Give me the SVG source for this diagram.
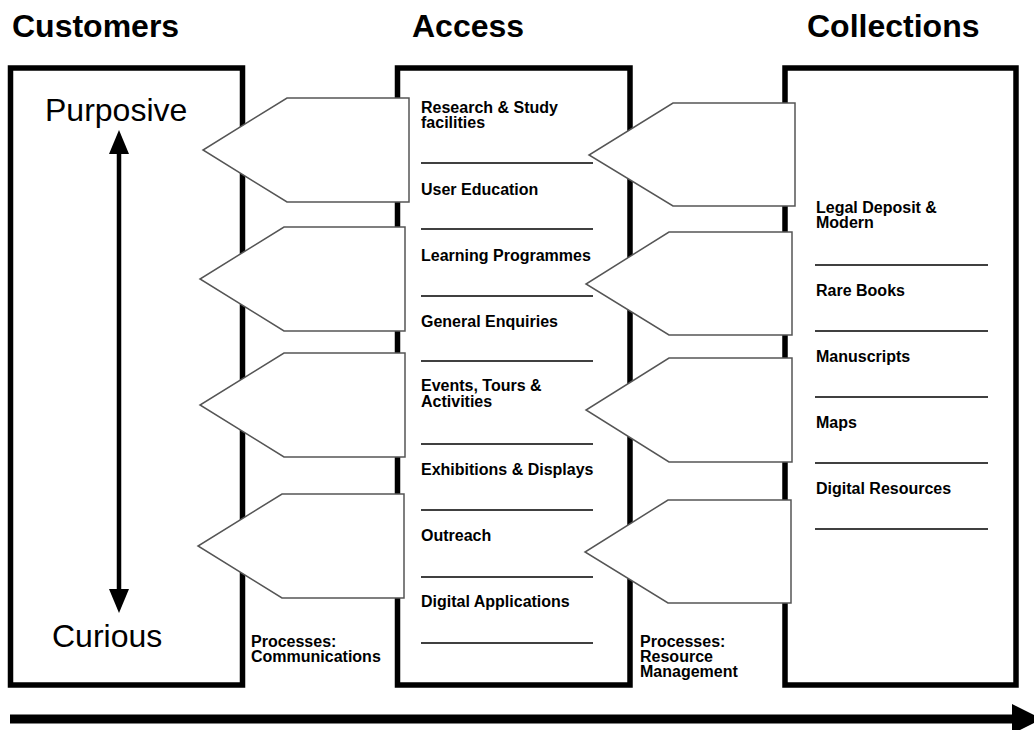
<svg xmlns="http://www.w3.org/2000/svg" width="1034" height="730" viewBox="0 0 1034 730">
  <style>
    .frame { fill: none; stroke: #000; stroke-width: 5.5; }
    .head { font-family: "Liberation Sans", Arial, sans-serif; font-weight: bold; font-size: 32px; fill: #000; }
    .scale { font-family: "Liberation Sans", Arial, sans-serif; font-size: 32px; fill: #000; }
    .item { font-family: "Liberation Sans", Arial, sans-serif; font-weight: bold; font-size: 16px; fill: #000; }
    .rule { stroke: #000; stroke-width: 1.6; }
    .block { fill: #fff; stroke: #555; stroke-width: 1.5; stroke-linejoin: miter; }
    .shaft { stroke: #000; fill: none; }
  </style>
  <defs>
    <marker id="tipV" markerUnits="userSpaceOnUse" markerWidth="24" markerHeight="20" viewBox="0 0 24 20" refX="4" refY="10" orient="auto-start-reverse">
      <path d="M0,0 L24,10 L0,20 z" fill="#000"/>
    </marker>
    <marker id="tipH" markerUnits="userSpaceOnUse" markerWidth="30" markerHeight="30" viewBox="0 0 30 30" refX="4" refY="15" orient="auto">
      <path d="M0,0 L30,15 L0,30 z" fill="#000"/>
    </marker>
  </defs>

  <rect width="1034" height="730" fill="#fff"/>

  <!-- Customers column -->
  <g id="customers">
    <text class="head" x="12" y="37">Customers</text>
    <rect class="frame" x="10.5" y="68" width="232" height="617"/>
    <text class="scale" x="45" y="121">Purposive</text>
    <text class="scale" x="52" y="647">Curious</text>
    <text class="item" x="251" y="647">Processes:</text>
    <text class="item" x="251" y="662">Communications</text>
  </g>

  <!-- Access column -->
  <g id="access">
    <text class="head" x="412" y="37">Access</text>
    <rect class="frame" x="397.5" y="68" width="232.5" height="617"/>
    <g class="item">
      <text x="421" y="113">Research &amp; Study</text>
      <text x="421" y="128">facilities</text>
      <text x="421" y="195">User Education</text>
      <text x="421" y="261">Learning Programmes</text>
      <text x="421" y="327">General Enquiries</text>
      <text x="421" y="391">Events, Tours &amp;</text>
      <text x="421" y="407">Activities</text>
      <text x="421" y="475">Exhibitions &amp; Displays</text>
      <text x="421" y="541">Outreach</text>
      <text x="421" y="607">Digital Applications</text>
    </g>
    <g class="rule">
      <line x1="421" y1="163" x2="593" y2="163"/>
      <line x1="421" y1="229" x2="593" y2="229"/>
      <line x1="421" y1="296" x2="593" y2="296"/>
      <line x1="421" y1="361" x2="593" y2="361"/>
      <line x1="421" y1="444" x2="593" y2="444"/>
      <line x1="421" y1="510" x2="593" y2="510"/>
      <line x1="421" y1="577" x2="593" y2="577"/>
      <line x1="421" y1="643" x2="593" y2="643"/>
    </g>
    <text class="item" x="640" y="647">Processes:</text>
    <text class="item" x="640" y="662">Resource</text>
    <text class="item" x="640" y="677">Management</text>
  </g>

  <!-- Collections column -->
  <g id="collections">
    <text class="head" x="807" y="37">Collections</text>
    <rect class="frame" x="785" y="68" width="231" height="617"/>
    <g class="item">
      <text x="816" y="213">Legal Deposit &amp;</text>
      <text x="816" y="228">Modern</text>
      <text x="816" y="296">Rare Books</text>
      <text x="816" y="362">Manuscripts</text>
      <text x="816" y="428">Maps</text>
      <text x="816" y="494">Digital Resources</text>
    </g>
    <g class="rule">
      <line x1="815" y1="265" x2="988" y2="265"/>
      <line x1="815" y1="331" x2="988" y2="331"/>
      <line x1="815" y1="397" x2="988" y2="397"/>
      <line x1="815" y1="463" x2="988" y2="463"/>
      <line x1="815" y1="529" x2="988" y2="529"/>
    </g>
  </g>

  <!-- Block arrows and flow arrows -->
  <g id="connectors">
    <!-- Access to Customers -->
    <polygon class="block" points="409,98 287,98 203,150 287,202 409,202"/>
    <polygon class="block" points="405,227 284,227 200,279 284,331 405,331"/>
    <polygon class="block" points="405,353 284,353 200,405 284,457 405,457"/>
    <polygon class="block" points="404,494 282,494 198,546 282,598 404,598"/>
    <!-- Collections to Access -->
    <polygon class="block" points="795,103 673,103 589,155 673,206 795,206"/>
    <polygon class="block" points="792,232 669,232 586,284 669,335 792,335"/>
    <polygon class="block" points="792,358 669,358 586,410 669,462 792,462"/>
    <polygon class="block" points="791,500 668,500 585,552 668,603 791,603"/>
    <!-- Purposive / Curious scale -->
    <line class="shaft" x1="119" y1="150" x2="119" y2="593" stroke-width="4.5" marker-start="url(#tipV)" marker-end="url(#tipV)"/>
    <!-- Overall flow -->
    <line class="shaft" x1="10" y1="719" x2="1016" y2="719" stroke-width="9" marker-end="url(#tipH)"/>
  </g>
</svg>
